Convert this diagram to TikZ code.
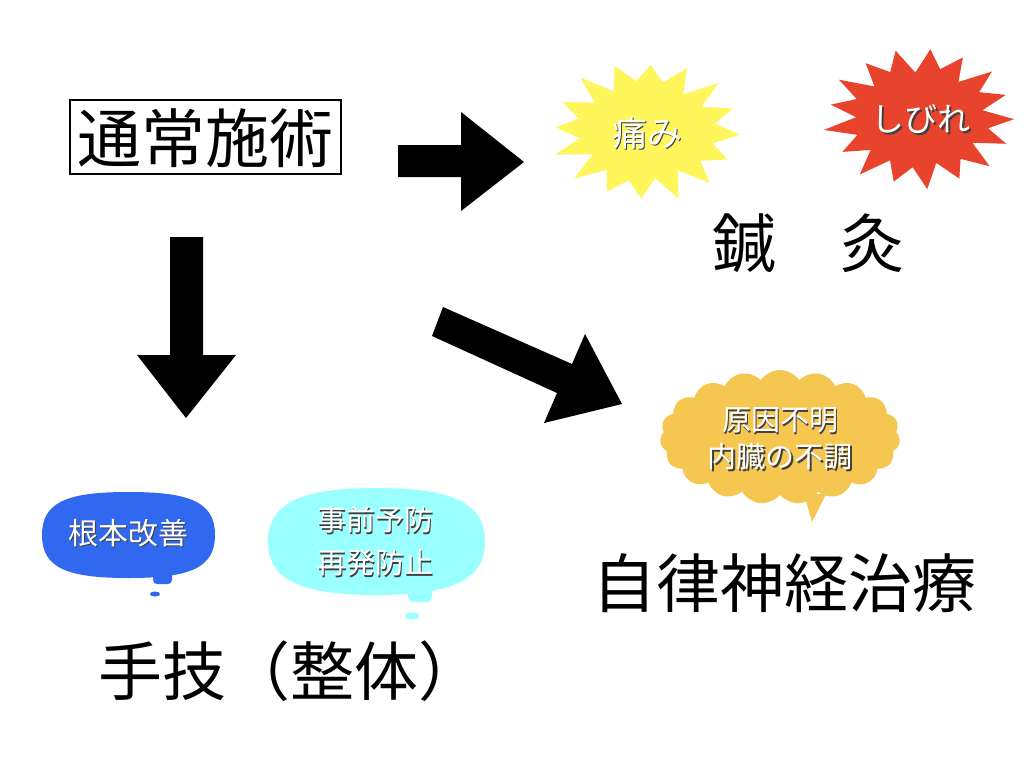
\documentclass[tikz,border=0pt]{standalone}
\usepackage{fontspec}
\newfontfamily\jp{Noto Sans CJK JP}
\usetikzlibrary{shapes.symbols}
\definecolor{starY}{RGB}{254,246,91}
\definecolor{starR}{RGB}{232,67,45}
\definecolor{cloudY}{RGB}{245,198,80}
\definecolor{bubB}{RGB}{48,104,240}
\definecolor{bubC}{RGB}{153,255,255}
\newcommand\shlabel[6]{% name, x, y, fontsize, baselineskip, text
  \node[font=\jp\fontsize{#4}{#5}\selectfont, text=black!75, align=center, inner sep=0, xshift=1.6pt, yshift=-1.6pt] at (#2,#3) {#6};
  \node[font=\jp\fontsize{#4}{#5}\selectfont, text=white, align=center, inner sep=0] (#1) at (#2,#3) {#6};}
\begin{document}
\begin{tikzpicture}[x=1pt,y=-1pt,
  bigtext/.style={font=\jp\fontsize{64}{64}\selectfont, inner sep=0, text=black},
  blockarrow/.style={fill=black}]
\useasboundingbox (0,0) rectangle (1024,768);
\fill[white] (0,0) rectangle (1024,768);

% main box
\draw[line width=1.3pt] (70,100) rectangle (341,174);
\node[bigtext] (tsujo) at (205.5,138) {通常施術};

% arrows
\fill[blockarrow] (398,145) -- (461,145) -- (461,112) -- (524,162) -- (461,211) -- (461,177) -- (398,177) -- cycle;
\fill[blockarrow] (170,237) -- (203,237) -- (203,355) -- (236,355) -- (186,418) -- (137,355) -- (170,355) -- cycle;
\fill[blockarrow] (443,307) -- (572,364) -- (585,334) -- (622,404) -- (544,423) -- (557,393) -- (432,336) -- cycle;

% starbursts
\fill[starY] plot[samples at={0,...,31}, variable=\k]
  ({646+94*(1-0.3*mod(\k,2)+0.04*sin(\k*131))*cos(\k*11.25+3)},
   {131+69*(1-0.3*mod(\k,2)+0.04*sin(\k*131))*sin(\k*11.25+3)}) -- cycle;
\fill[starR] plot[samples at={0,...,33}, variable=\k]
  ({920+94*(1-0.3*mod(\k,2)+0.04*sin(\k*97))*cos(\k*10.588+1)},
   {118+69*(1-0.3*mod(\k,2)+0.04*sin(\k*97))*sin(\k*10.588+1)}) -- cycle;
\shlabel{itami}{647}{133}{35}{40}{痛み}
\shlabel{shibire}{921}{119}{33}{40}{しびれ}
\node[bigtext] (shinkyu) at (808,244) {鍼\hspace{1em}灸};

% cloud
\node[cloud, cloud puffs=19, cloud puff arc=110, aspect=1.8, fill=cloudY,
      minimum width=240pt, minimum height=134pt, inner sep=0] (cloud) at (780,437) {};
\fill[cloudY] (804,494) -- (826,494) -- (812,522) -- cycle;
\shlabel{genin}{780}{439}{29}{37}{原因不明\\内臓の不調}

% blue bubble
\fill[bubB] (128.5,492) .. controls (190,492) and (215,502) .. (215,535)
  .. controls (215,568) and (190,578) .. (128.5,578)
  .. controls (67,578) and (42,568) .. (42,535)
  .. controls (42,502) and (67,492) .. cycle;
\fill[bubB, rounded corners=4pt] (153,572) rectangle (172,584);
\fill[bubB] (155,594) ellipse [x radius=5, y radius=2.5];
\shlabel{konpon}{128}{533}{30}{38}{根本改善}

% cyan bubble
\fill[bubC] (376.5,488) .. controls (452,488) and (485,503) .. (485,541.5)
  .. controls (485,580) and (452,595) .. (376.5,595)
  .. controls (301,595) and (268,580) .. (268,541.5)
  .. controls (268,503) and (301,488) .. cycle;
\fill[bubC, rounded corners=5pt] (408,588) rectangle (432,602);
\fill[bubC] (412,616) ellipse [x radius=7, y radius=3.5];
\shlabel{jizen}{375}{541}{29}{43}{事前予防\\再発防止}

% bottom labels
\node[bigtext] (shugi) at (290,671) {手技（整体）};
\node[bigtext] (jiritsu) at (784,583) {自律神経治療};
\end{tikzpicture}
\end{document}
